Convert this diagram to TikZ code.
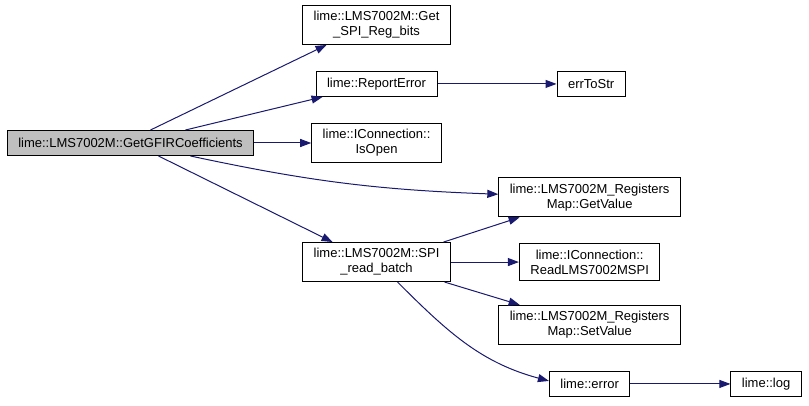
\documentclass[tikz,border=0pt]{standalone}
\usepackage{fontspec}
\setmainfont{Liberation Sans}
\usetikzlibrary{arrows.meta, positioning}
\definecolor{edgeblue}{RGB}{25,25,112}

\begin{document}
\begin{tikzpicture}[x=1pt, y=-1pt, >={Triangle[length=11pt, width=8pt]}, line width=1pt,
  every node/.style={draw=black, align=center, font=\fontsize{13}{15}\selectfont, inner xsep=11pt, inner ysep=6pt, minimum height=25pt},
  call/.style={->, draw=edgeblue}]

  \useasboundingbox (0,0) rectangle (809,406);

  % Nodes
  \node (C) [fill=black!25] at (130.5,143) {lime::LMS7002M::GetGFIRCoefficients};
  \node (O) [right=57pt of C] {lime::IConnection::\\IsOpen};
  \node (E) [above=26pt of O] {lime::ReportError};
  \node (B) [above=26pt of E] {lime::LMS7002M::Get\\\_SPI\_Reg\_bits};
  \node (S) [below=79pt of O] {lime::LMS7002M::SPI\\\_read\_batch};
  \node (R) [right=68pt of S] {lime::IConnection::\\ReadLMS7002MSPI};
  \node (G) [above=26pt of R] {lime::LMS7002M\_Registers\\Map::GetValue};
  \node (V) [below=24pt of R] {lime::LMS7002M\_Registers\\Map::SetValue};
  \node (X) [below=26pt of V] {lime::error};
  \node (L) [right=100pt of X] {lime::log};
  \node (T) [right=119pt of E] {errToStr};

  % Edges
  \draw[call] ([xshift=20pt]C.north) -- ([xshift=-50pt]B.south);
  \draw[call] ([xshift=55pt]C.north) -- ([xshift=-54pt]E.south);
  \draw[call] (C) -- (O);
  \draw[call] ([xshift=60pt]C.south) to[bend right=5] ([yshift=3pt]G.west);
  \draw[call] ([xshift=28pt]C.south) -- ([xshift=-44pt]S.north);
  \draw[call] (E) -- (T);
  \draw[call] ([xshift=67pt]S.north) -- ([xshift=-70pt]G.south);
  \draw[call] (S) -- (R);
  \draw[call] ([xshift=68pt]S.south) -- ([xshift=-70pt]V.north);
  \draw[call] ([xshift=21pt]S.south) to[out=-45, in=165] ([yshift=3pt]X.west);
  \draw[call] (X) -- (L);

\end{tikzpicture}
\end{document}
